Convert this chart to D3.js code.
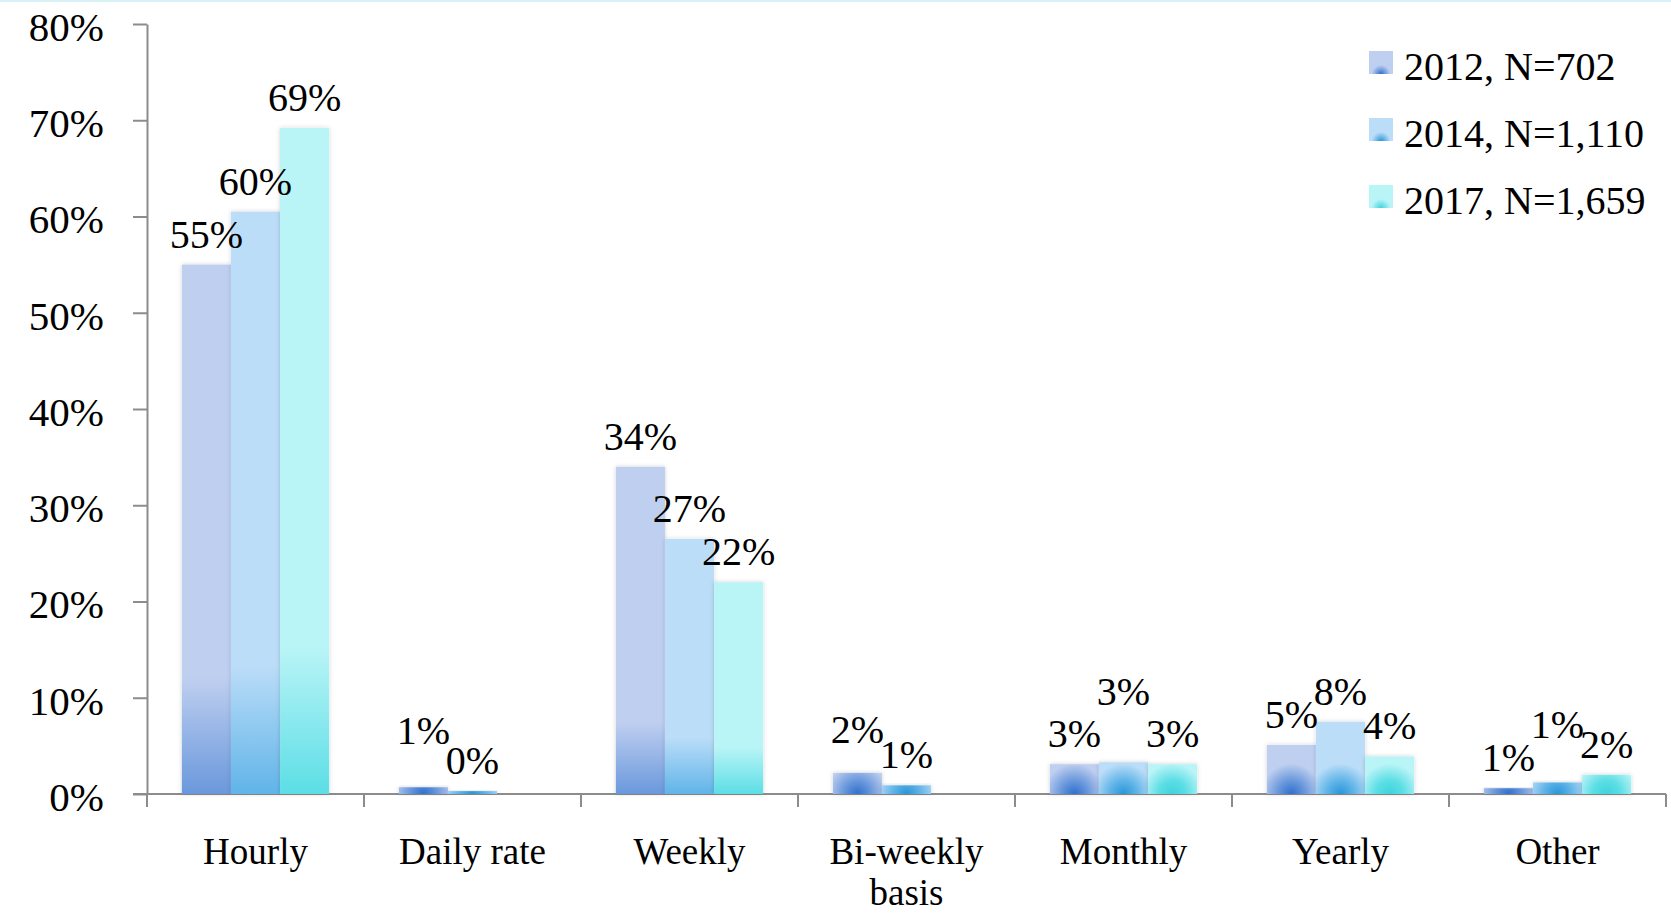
<!DOCTYPE html>
<meta charset="utf-8">
<style>
body { margin: 0; background: #fff; }
text { font-family: "Liberation Serif", "DejaVu Serif", serif; fill: #000; }
.axis path, .axis line { stroke: #8c8c8c; stroke-width: 2; fill: none; }
</style>
<svg width="1671" height="914"></svg>
<script src="https://d3js.org/d3.v7.min.js"></script>
<script>
var categories = ["Hourly", "Daily rate", "Weekly", "Bi-weekly\nbasis", "Monthly", "Yearly", "Other"];
var series = ["2012, N=702", "2014, N=1,110", "2017, N=1,659"];
var values2012 = [55, 0.7, 34, 2.2, 3.1, 5.1, 0.6];
var values2014 = [60.5, 0.3, 26.5, 0.9, 3.3, 7.5, 1.2];
var values2017 = [69.2, null, 22, null, 3.1, 3.9, 2.0];
var labels2012 = ["55%", "1%", "34%", "2%", "3%", "5%", "1%"];
var labels2014 = ["60%", "0%", "27%", "1%", "3%", "8%", "1%"];
var labels2017 = ["69%", null, "22%", null, "3%", "4%", "2%"];
var yTicks = [0, 10, 20, 30, 40, 50, 60, 70, 80];

// labels that were moved up in the original to avoid overlapping
var labelLift = {"1|0": 26, "3|0": 13, "4|1": 40, "6|1": 27};

var colors = [
  {light: "#bfcff0", dark: "#6a98dc", deep: "#2f6fcc"},
  {light: "#bbddf8", dark: "#60b4e8", deep: "#2a95d8"},
  {light: "#b9f4f7", dark: "#5cdee5", deep: "#3fd3dc"}
];

var svg = d3.select("svg"),
    plotLeft = 147, plotRight = 1666, plotTop = 24, plotBottom = 794;

var x0 = d3.scaleBand().domain(d3.range(categories.length)).range([plotLeft, plotRight]);
var x1 = d3.scaleBand().domain(d3.range(series.length)).range([0, x0.bandwidth()])
    .paddingInner(0).paddingOuter(0.71);
var y = d3.scaleLinear().domain([0, 80]).range([plotBottom, plotTop]);

var defs = svg.append("defs");
colors.forEach(function(c, i) {
  var g = defs.append("linearGradient").attr("id", "bar" + i)
      .attr("x1", 0).attr("y1", 0).attr("x2", 0).attr("y2", 1);
  g.append("stop").attr("offset", "0").attr("stop-color", c.light);
  g.append("stop").attr("offset", "0.78").attr("stop-color", c.light);
  g.append("stop").attr("offset", "1").attr("stop-color", c.dark);
  var r = defs.append("radialGradient").attr("id", "leg" + i)
      .attr("cx", 0.5).attr("cy", 1).attr("r", 0.6);
  r.append("stop").attr("offset", "0").attr("stop-color", c.deep);
  r.append("stop").attr("offset", "0.65").attr("stop-color", c.light);
  r.append("stop").attr("offset", "1").attr("stop-color", c.light);
});
var f = defs.append("filter").attr("id", "shadow")
    .attr("x", "-20%").attr("y", "-20%").attr("width", "140%").attr("height", "140%");
f.append("feDropShadow").attr("dx", 0).attr("dy", 0).attr("stdDeviation", 2)
    .attr("flood-color", "#000").attr("flood-opacity", 0.18);

// thin cyan line at the top of the slide
svg.append("rect").attr("x", 0).attr("y", 0).attr("width", 1671).attr("height", 2)
    .attr("fill", "#d6f2f6");

// y axis
var yAxis = svg.append("g").attr("class", "axis")
    .attr("transform", "translate(" + plotLeft + ",0)")
    .call(d3.axisLeft(y).tickValues(yTicks).tickSize(14).tickSizeOuter(0)
      .tickFormat(function(d) { return d + "%"; }));
yAxis.selectAll("text")
    .attr("x", -43).attr("dy", "0.4em")
    .style("font-size", "41px").style("fill", "#000");

// x axis with ticks between categories
var xEdges = d3.range(categories.length + 1).map(function(i) {
  return i < categories.length ? x0(i) : x0(i - 1) + x0.bandwidth();
});
var xAxis = svg.append("g").attr("class", "axis");
xAxis.append("path").attr("d", "M" + (plotLeft - 14) + "," + plotBottom + "H" + plotRight);
xAxis.selectAll("line").data(xEdges).enter().append("line")
    .attr("x1", function(d) { return d; }).attr("x2", function(d) { return d; })
    .attr("y1", plotBottom).attr("y2", plotBottom + 13);

xAxis.selectAll("text.cat").data(categories).enter().append("text")
    .attr("class", "cat")
    .attr("text-anchor", "middle")
    .style("font-size", "37px")
    .attr("transform", function(d, i) { return "translate(" + (x0(i) + x0.bandwidth() / 2) + ",864)"; })
  .selectAll("tspan").data(function(d) { return d.split("\n"); }).enter().append("tspan")
    .attr("x", 0).attr("dy", function(d, j) { return j ? 41 : 0; })
    .text(function(d) { return d; });

// bars
var allValues = [values2012, values2014, values2017];
var allLabels = [labels2012, labels2014, labels2017];
var rows = [];
categories.forEach(function(c, i) {
  series.forEach(function(s, j) {
    rows.push({ci: i, si: j, v: allValues[j][i], label: allLabels[j][i]});
  });
});
var barRows = rows.filter(function(d) { return d.v != null; });

// short bars get a round glow at their foot, drawn per bar so it stays circular
barRows.forEach(function(d, k) {
  if (plotBottom - y(d.v) >= 100) return;
  var c = colors[d.si], w = x1.bandwidth();
  var g = defs.append("radialGradient").attr("id", "glow" + k)
      .attr("gradientUnits", "userSpaceOnUse")
      .attr("cx", x0(d.ci) + x1(d.si) + w / 2).attr("cy", plotBottom).attr("r", w * 0.62);
  g.append("stop").attr("offset", "0").attr("stop-color", c.deep);
  g.append("stop").attr("offset", "0.45").attr("stop-color", c.dark);
  g.append("stop").attr("offset", "1").attr("stop-color", c.light);
  d.fill = "url(#glow" + k + ")";
});

svg.append("g").selectAll("rect").data(barRows)
  .enter().append("rect")
    .attr("x", function(d) { return x0(d.ci) + x1(d.si); })
    .attr("y", function(d) { return y(d.v); })
    .attr("width", x1.bandwidth())
    .attr("height", function(d) { return plotBottom - y(d.v); })
    .attr("fill", function(d) { return d.fill || "url(#bar" + d.si + ")"; })
    .attr("filter", "url(#shadow)");

// data labels
svg.append("g").selectAll("text").data(rows.filter(function(d) { return d.label != null; }))
  .enter().append("text")
    .attr("text-anchor", "middle")
    .style("font-size", "40px")
    .attr("x", function(d) { return x0(d.ci) + x1(d.si) + x1.bandwidth() / 2; })
    .attr("y", function(d) { return y(d.v) - 17 - (labelLift[d.ci + "|" + d.si] || 0); })
    .text(function(d) { return d.label; });

// legend
var legend = svg.append("g").selectAll("g").data(series).enter().append("g")
    .attr("transform", function(d, i) { return "translate(1369," + (51 + i * 67) + ")"; });
legend.append("rect").attr("width", 24).attr("height", 23)
    .attr("fill", function(d, i) { return "url(#leg" + i + ")"; });
legend.append("text").attr("x", 35).attr("y", 29)
    .style("font-size", "40px")
    .text(function(d) { return d; });
</script>
